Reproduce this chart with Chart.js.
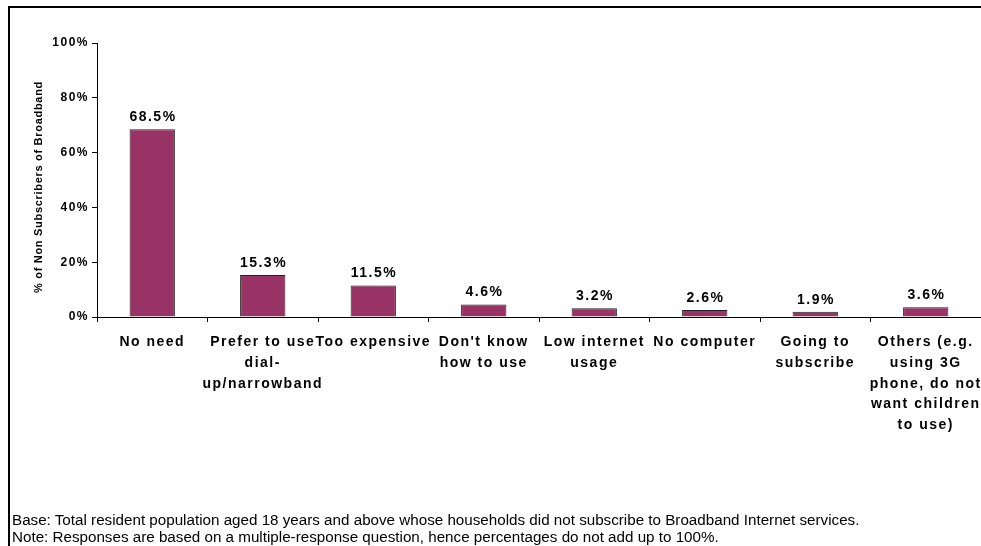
<!DOCTYPE html>
<html>
<head>
<meta charset="utf-8">
<script src="https://cdn.jsdelivr.net/npm/chart.js@4.4.1/dist/chart.umd.min.js"></script>
<style>
  html, body { margin: 0; padding: 0; background: #fff; }
  #wrap { position: relative; width: 981px; height: 546px; overflow: hidden; background: #fff; }
  #frame { position: absolute; left: 8px; top: 6px; width: 1000px; height: 600px;
           border-left: 2px solid #000; border-top: 2px solid #000; box-sizing: border-box; }
  canvas { position: absolute; left: 0; top: 0; }
  .note { position: absolute; left: 12px; font-family: "Liberation Sans", Arial, sans-serif;
          font-size: 15.2px; line-height: 17px; color: #000; white-space: nowrap; }
</style>
</head>
<body>
<div id="wrap">
  <div id="frame"></div>
  <canvas id="c" width="981" height="546"></canvas>
  <div class="note" style="top:511px">Base: Total resident population aged 18 years and above whose households did not subscribe to Broadband Internet services.</div>
  <div class="note" style="top:528px">Note: Responses are based on a multiple-response question, hence percentages do not add up to 100%.</div>
</div>
<script>
// Reasons for not subscribing to broadband, share of non-subscribers (%)
const categories = [
  ["No need"],
  ["Prefer to use", "dial-", "up/narrowband"],
  ["Too expensive"],
  ["Don't know", "how to use"],
  ["Low internet", "usage"],
  ["No computer"],
  ["Going to", "subscribe"],
  ["Others (e.g.", "using 3G", "phone, do not", "want children", "to use)"]
];
const shares = [68.5, 15.3, 11.5, 4.6, 3.2, 2.6, 1.9, 3.6];
const yTicks = [0, 20, 40, 60, 80, 100];
const yTitle = "% of Non Subscribers of Broadband";

const FONT = '"Liberation Sans", Arial, sans-serif';
const SPACING = '1.5px';

// Wide-set lettering for every label drawn on the canvas
const spacing = {
  id: 'spacing',
  afterInit(chart) {
    if ('letterSpacing' in chart.ctx) chart.ctx.letterSpacing = SPACING;
  }
};

// Value labels above each bar plus the rotated axis title
const annotate = {
  id: 'annotate',
  afterDatasetsDraw(chart) {
    const ctx = chart.ctx;
    const meta = chart.getDatasetMeta(0);
    ctx.save();
    ctx.fillStyle = '#000';
    ctx.font = 'bold 14px ' + FONT;
    ctx.textAlign = 'center';
    ctx.textBaseline = 'alphabetic';
    meta.data.forEach((bar, i) => {
      ctx.fillText(shares[i].toFixed(1) + '%', bar.x + 0.75, bar.y - 8);
    });
    ctx.translate(39, 187);
    ctx.rotate(-Math.PI / 2);
    if ('letterSpacing' in ctx) ctx.letterSpacing = '0.7px';
    ctx.font = 'bold 11px ' + FONT;
    ctx.textBaseline = 'middle';
    ctx.fillText(yTitle, 0, 0);
    ctx.restore();
  }
};

new Chart(document.getElementById('c'), {
  type: 'bar',
  data: {
    labels: categories,
    datasets: [{
      data: shares,
      backgroundColor: '#993366',
      borderColor: '#222',
      borderWidth: 1,
      borderSkipped: 'bottom',
      categoryPercentage: 1.0,
      barPercentage: 0.41
    }]
  },
  options: {
    responsive: false,
    animation: false,
    events: [],
    layout: { padding: { left: 0, right: 0, top: 43, bottom: 0 } },
    plugins: { legend: { display: false }, tooltip: { enabled: false }, title: { display: false } },
    scales: {
      x: {
        offset: true,
        grid: { display: true, offset: true, drawOnChartArea: false, drawTicks: true,
                tickLength: 5, color: '#000', lineWidth: 1 },
        border: { display: true, color: '#000', width: 1 },
        ticks: { color: '#000', font: { family: FONT, size: 14, weight: 'bold', lineHeight: 1.48 },
                 maxRotation: 0, minRotation: 0, autoSkip: false, padding: 10 },
        afterFit(scale) {
          scale.height = 546 - 317;
          scale.paddingLeft = 0;
          scale.paddingRight = 0;
        }
      },
      y: {
        min: 0, max: 100,
        afterBuildTicks(scale) { scale.ticks = yTicks.map(v => ({ value: v })); },
        grid: { display: true, drawOnChartArea: false, drawTicks: true, tickLength: 5,
                color: '#000', lineWidth: 1 },
        border: { display: true, color: '#000', width: 1 },
        ticks: { color: '#000', font: { family: FONT, size: 12, weight: 'bold' }, padding: 3,
                 callback: v => v + '%' },
        afterFit(scale) {
          scale.width = 97;
          scale.paddingTop = 0;
          scale.paddingBottom = 0;
        }
      }
    }
  },
  plugins: [spacing, annotate]
});
</script>
</body>
</html>
